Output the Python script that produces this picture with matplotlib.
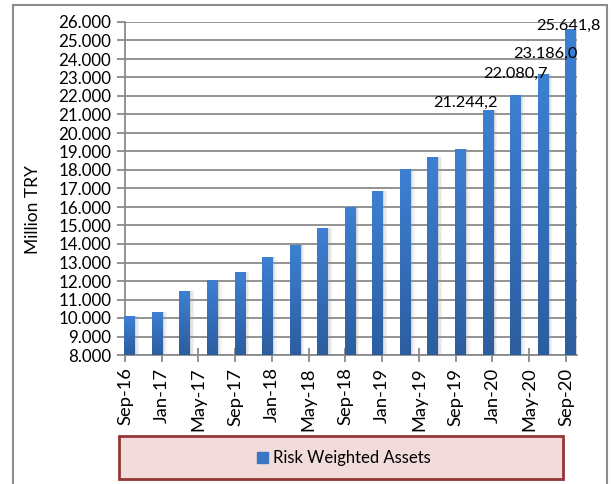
import numpy as np
import matplotlib
matplotlib.use('Agg')
import matplotlib.pyplot as plt
from matplotlib.patches import Rectangle, Patch
from matplotlib.colors import LinearSegmentedColormap

plt.rcParams['font.family'] = ['Lato', 'DejaVu Sans']

# quarterly risk weighted assets, million TRY (Sep-16 .. Sep-20)
quarters = ['Sep-16', 'Dec-16', 'Mar-17', 'Jun-17', 'Sep-17', 'Dec-17',
            'Mar-18', 'Jun-18', 'Sep-18', 'Dec-18', 'Mar-19', 'Jun-19',
            'Sep-19', 'Dec-19', 'Mar-20', 'Jun-20', 'Sep-20']
rwa = [10100, 10300, 11480, 12040, 12470, 13320, 13950, 14840, 15980,
       16870, 18050, 18690, 19120, 21244.2, 22080.7, 23186.0, 25641.8]
labelled = [13, 14, 15, 16]          # bars that carry a value label
tick_labels = ['Sep-16', 'Jan-17', 'May-17', 'Sep-17', 'Jan-18', 'May-18',
               'Sep-18', 'Jan-19', 'May-19', 'Sep-19', 'Jan-20', 'May-20',
               'Sep-20']
series_name = 'Risk Weighted Assets'

# months since Sep-16; each bar sits in the middle of its month slot
months = np.arange(len(quarters)) * 3
xc = months + 0.5
width = 1.15

grid_col = '#8a8a8a'
top_col, bot_col = '#3d80d3', '#2c5d9f'

fig = plt.figure(figsize=(6.12, 4.84), dpi=100)
W, H = 612, 484
ax = fig.add_axes([125 / W, 1 - 355 / H, (577 - 125) / W, (355 - 22) / H])

# soft shadow to the right of each bar
for dx, a in [(0.45, 0.10), (0.3, 0.15), (0.15, 0.2)]:
    ax.bar(xc + dx, np.array(rwa) - 8000, width=width, bottom=8000,
           color='#9a9a9a', alpha=a, linewidth=0, zorder=2)

bars = ax.bar(xc, np.array(rwa) - 8000, width=width, bottom=8000,
              color=top_col, linewidth=0, zorder=3, label=series_name)

# vertical gradient inside every bar
cmap = LinearSegmentedColormap.from_list('bluegrad', [bot_col, top_col])
grad = np.linspace(0, 1, 256).reshape(-1, 1)
for b in bars:
    x0, y0 = b.get_x(), b.get_y()
    im = ax.imshow(grad, cmap=cmap, origin='lower', aspect='auto',
                   extent=[x0, x0 + b.get_width(), y0, y0 + b.get_height()],
                   zorder=4)
    im.set_clip_path(b)

ax.set_xlim(0, 49.2)
ax.set_ylim(8000, 26000)

ax.set_yticks(np.arange(8000, 26001, 1000))
ax.set_yticklabels([f'{v:,.0f}'.replace(',', '.') for v in range(8000, 26001, 1000)])
ax.set_xticks(np.arange(0, 49, 4))
ax.set_xticklabels(tick_labels, rotation=90)

ax.yaxis.grid(True, color=grid_col, linewidth=1.3, zorder=1)
ax.set_axisbelow(True)
for s in ['top', 'right']:
    ax.spines[s].set_visible(False)
for s in ['left', 'bottom']:
    ax.spines[s].set_color(grid_col)
    ax.spines[s].set_linewidth(1.3)
ax.tick_params(axis='y', direction='out', length=6, width=1.3,
               color=grid_col, labelsize=12.2, pad=4)
ax.tick_params(axis='x', direction='inout', length=10, width=1.3,
               color=grid_col, labelsize=13.2, pad=4)

fig.text(33 / W, 1 - 210 / H, 'Million TRY', rotation=90, fontsize=12.5,
         ha='center', va='center')

# value labels (offsets in px)
offsets = {13: (-22, 2.7), 14: (0, 16.4), 15: (2, 16), 16: (-2, -1)}
for i in labelled:
    txt = f'{rwa[i]:,.1f}'.replace(',', ' ').replace('.', ',').replace(' ', '.')
    dx, dy = offsets[i]
    ax.annotate(txt, xy=(xc[i], rwa[i]), xytext=(dx * 0.72, dy * 0.72),
                textcoords='offset points', ha='center', va='baseline',
                fontsize=11.8, zorder=6, annotation_clip=False)

# outer chart frame
fig.patches.append(Rectangle((13 / W, -0.05), (607 - 13) / W, 1.05 - 5 / H,
                             transform=fig.transFigure, fill=False,
                             edgecolor='#8c8c8c', linewidth=1.5))

# legend box
fig.patches.append(Rectangle((121 / W, 1 - 481 / H), (444 / W), 43 / H,
                             transform=fig.transFigure, facecolor='#bdbdbd',
                             edgecolor='none', alpha=0.6))
fig.patches.append(Rectangle((119 / W, 1 - 479 / H), (444 / W), 43 / H,
                             transform=fig.transFigure, facecolor='#f2dcdb',
                             edgecolor='#953735', linewidth=2))
fig.legend(handles=[Patch(color='#3a76c4', label=series_name)],
           loc='center', bbox_to_anchor=(344 / W, 1 - 458 / H),
           frameon=False, fontsize=12, handlelength=0.65, handleheight=0.65,
           handletextpad=0.3)

fig.savefig('out.png', dpi=100)
